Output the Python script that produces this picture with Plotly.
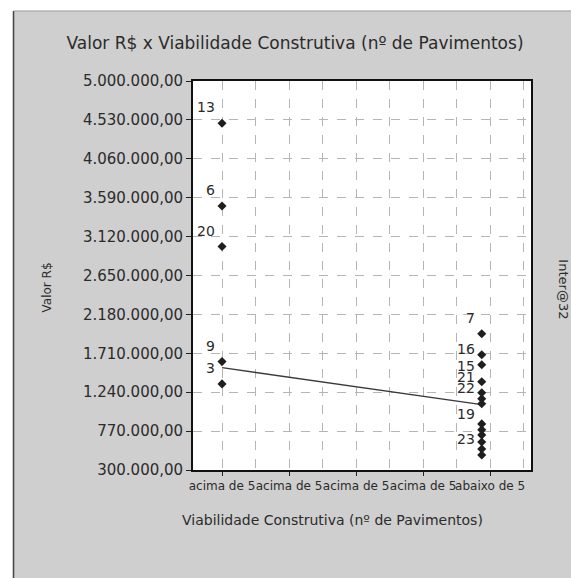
import plotly.graph_objects as go

# Valor (R$) por grupo de viabilidade construtiva
grupo_acima_x = [1, 1, 1, 1, 1]
grupo_acima_valor = [4490000, 3490000, 3000000, 1610000, 1340000]
grupo_acima_rotulo = ["13", "6", "20", "9", "3"]

grupo_abaixo_x = [8.75] * 13
grupo_abaixo_valor = [1947000, 1693000, 1572000, 1366000, 1233000, 1160000,
                      1100000, 857000, 785000, 724000, 639000, 554000, 482000]
grupo_abaixo_rotulo = ["7", "", "16", "15", "21", "", "22", "", "19", "", "", "", "23"]

# Linha de tendência entre os grupos
tendencia_x = [1, 8.75]
tendencia_valor = [1536000, 1090000]

# Eixos
y_ticks = [300000, 770000, 1240000, 1710000, 2180000, 2650000,
           3120000, 3590000, 4060000, 4530000, 5000000]
x_ticks = [1, 3, 5, 7, 9]
x_tick_labels = ["acima de 5", "acima de 5", "acima de 5", "acima de 5", "abaixo de 5"]


def brl(v):
    s = f"{v:,.2f}"
    return s.replace(",", "X").replace(".", ",").replace("X", ".")


TXT = "#2b2b2b"
FONT = "DejaVu Sans, Verdana, sans-serif"

fig = go.Figure()

fig.add_trace(go.Scatter(
    x=tendencia_x, y=tendencia_valor, mode="lines",
    line=dict(color="#3a3a3a", width=1.3), hoverinfo="skip", showlegend=False,
))

for xs, ys in ((grupo_acima_x, grupo_acima_valor), (grupo_abaixo_x, grupo_abaixo_valor)):
    fig.add_trace(go.Scatter(
        x=xs, y=ys, mode="markers",
        marker=dict(symbol="diamond", size=7, color="#1e1e1e"),
        showlegend=False,
    ))

annotations = []
for xs, ys, labels in ((grupo_acima_x, grupo_acima_valor, grupo_acima_rotulo),
                       (grupo_abaixo_x, grupo_abaixo_valor, grupo_abaixo_rotulo)):
    for x, y, t in zip(xs, ys, labels):
        if t:
            annotations.append(dict(
                x=x, y=y, xref="x", yref="y", text=t, showarrow=False,
                xanchor="right", yanchor="middle", xshift=-5, yshift=16,
                font=dict(family=FONT, size=14, color=TXT),
            ))

# Títulos dos eixos e texto lateral
annotations += [
    dict(x=-0.46, y=0.468, xref="paper", yref="paper", text="Valor R$",
         textangle=-90, showarrow=False, font=dict(family=FONT, size=12, color=TXT)),
    dict(x=0.414, y=-0.154, xref="paper", yref="paper",
         text="Viabilidade Construtiva (nº de Pavimentos)", showarrow=False,
         font=dict(family=FONT, size=14, color=TXT)),
    dict(x=1.125, y=0.465, xref="paper", yref="paper", text="Inter@32",
         textangle=90, showarrow=False, font=dict(family=FONT, size=13, color=TXT)),
]

shapes = [
    # faixa branca superior e lateral esquerda, com borda do painel
    dict(type="rect", xref="paper", yref="paper", x0=-0.6, x1=1.2, y0=1.18, y1=1.25,
         fillcolor="white", line=dict(width=0)),
    dict(type="rect", xref="paper", yref="paper", x0=-0.6, x1=-0.533, y0=-0.35, y1=1.25,
         fillcolor="white", line=dict(width=0)),
    dict(type="line", xref="paper", yref="paper", x0=-0.531, x1=-0.531, y0=-0.35, y1=1.18,
         line=dict(color="#444", width=1.5)),
    dict(type="line", xref="paper", yref="paper", x0=-0.531, x1=1.2, y0=1.18, y1=1.18,
         line=dict(color="#9a9a9a", width=1)),
]

fig.update_layout(
    width=571, height=578,
    margin=dict(l=193, r=40, t=81, b=108),
    paper_bgcolor="#cfcfcf", plot_bgcolor="white",
    title=dict(text="Valor R$ x Viabilidade Construtiva (nº de Pavimentos)",
               x=0.5166, y=1 - 43 / 578, xanchor="center", yanchor="middle",
               font=dict(family=FONT, size=17, color=TXT)),
    annotations=annotations, shapes=shapes,
    font=dict(family=FONT, color=TXT),
)

fig.update_xaxes(
    range=[0.134, 10.22], tickvals=x_ticks, ticktext=x_tick_labels, tickangle=0,
    ticks="outside", ticklen=4, tickcolor="#222",
    tickfont=dict(family=FONT, size=12, color=TXT),
    showgrid=True, gridcolor="#b5b5b5", griddash="dash", gridwidth=1,
    minor=dict(dtick=1, tick0=0, showgrid=True, gridcolor="#b5b5b5", griddash="dash"),
    showline=True, linecolor="#111", linewidth=1.8, mirror=True, zeroline=False,
)
fig.update_yaxes(
    range=[300000, 5000000], tickvals=y_ticks, ticktext=[brl(v) for v in y_ticks],
    ticks="outside", ticklen=5, tickcolor="#222",
    tickfont=dict(family=FONT, size=15, color=TXT),
    showgrid=True, gridcolor="#b5b5b5", griddash="dash", gridwidth=1,
    showline=True, linecolor="#111", linewidth=1.8, mirror=True, zeroline=False,
)

fig.write_html("out.html")
